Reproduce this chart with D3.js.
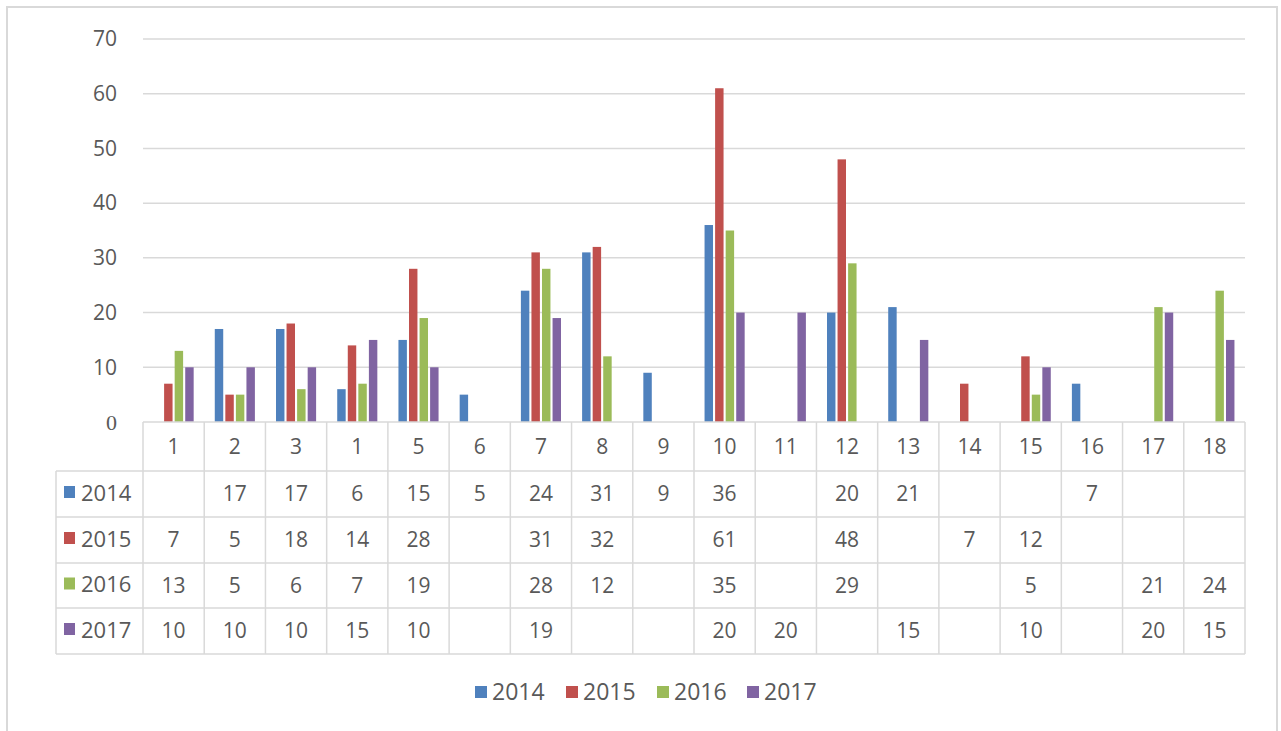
<!DOCTYPE html>
<html><head><meta charset="utf-8">
<script src="https://cdn.jsdelivr.net/npm/d3@7"></script>
<style>body{margin:0;background:#fff;}svg{display:block;}</style>
</head><body>
<script>
const categories = ["1","2","3","1","5","6","7","8","9","10","11","12","13","14","15","16","17","18"];
const seriesNames = ["2014","2015","2016","2017"];
const s2014 = [null,17,17,6,15,5,24,31,9,36,null,20,21,null,null,7,null,null];
const s2015 = [7,5,18,14,28,null,31,32,null,61,null,48,null,7,12,null,null,null];
const s2016 = [13,5,6,7,19,null,28,12,null,35,null,29,null,null,5,null,21,24];
const s2017 = [10,10,10,15,10,null,19,null,null,20,20,null,15,null,10,null,20,15];
const yTicks = [0,10,20,30,40,50,60,70];
const colors = ["#4F81BD","#C0504D","#9BBB59","#8064A2"];
const series = [s2014,s2015,s2016,s2017];

const W=1281,H=731;
const svg=d3.select("body").append("svg").attr("width",W).attr("height",H);
const font="'Open Sans', 'Liberation Sans', sans-serif";
const txt="#595959", grid="#d9d9d9";
const FS=21;

svg.append("rect").attr("x",7).attr("y",7).attr("width",1270).attr("height",740)
  .attr("fill","#fff").attr("stroke","#d9d9d9").attr("stroke-width",2);

const L=143,R=1245,T=39,B=422;
const x=d3.scaleBand().domain(d3.range(categories.length)).range([L,R]);
const y=d3.scaleLinear().domain([0,70]).range([B,T]);
const inner=d3.scaleBand().domain(d3.range(4)).range([0,x.bandwidth()]).paddingOuter(1.0).paddingInner(0.2);

// gridlines
svg.append("g").selectAll("line").data(yTicks.filter(d=>d>0)).join("line")
  .attr("x1",L).attr("x2",R).attr("y1",d=>y(d)).attr("y2",d=>y(d))
  .attr("stroke",grid).attr("stroke-width",1.5);
// y labels
svg.append("g").selectAll("text").data(yTicks).join("text")
  .attr("x",117).attr("y",d=>y(d)).attr("dy","0.35em").attr("text-anchor","end")
  .attr("font-family",d=>d===0?"'Liberation Serif', serif":font).attr("font-size",d=>d===0?22:FS).attr("fill",txt)
  .text(d=>d);

// bars
series.forEach((s,si)=>{
  svg.append("g").selectAll("rect").data(s.map((v,i)=>({v,i})).filter(d=>d.v!=null)).join("rect")
    .attr("x",d=>x(d.i)+inner(si)).attr("width",inner.bandwidth())
    .attr("y",d=>y(d.v)).attr("height",d=>B-y(d.v)).attr("fill",colors[si]);
});

// table
const rowTop=[422,471,517,563,608,654];
const TL=56;
const tg=svg.append("g").attr("stroke",grid).attr("stroke-width",1.5).attr("fill","none");
tg.append("line").attr("x1",L).attr("x2",R).attr("y1",B).attr("y2",B);
rowTop.slice(1).forEach(ry=>tg.append("line").attr("x1",TL).attr("x2",R).attr("y1",ry).attr("y2",ry));
tg.append("line").attr("x1",TL).attr("x2",TL).attr("y1",471).attr("y2",654);
d3.range(categories.length+1).forEach(i=>{
  const xx = i<categories.length? x(i): R;
  tg.append("line").attr("x1",xx).attr("x2",xx).attr("y1",B).attr("y2",654);
});
// category labels
svg.append("g").selectAll("text").data(categories).join("text")
  .attr("x",(d,i)=>x(i)+x.bandwidth()/2).attr("y",(rowTop[0]+rowTop[1])/2).attr("dy","0.35em")
  .attr("text-anchor","middle").attr("font-family",font).attr("font-size",FS).attr("fill",txt).text(d=>d);
// rows
series.forEach((s,si)=>{
  const cy=(rowTop[si+1]+rowTop[si+2])/2-1;
  svg.append("rect").attr("x",64).attr("y",cy-7).attr("width",11).attr("height",12).attr("fill",colors[si]);
  svg.append("text").attr("x",81).attr("y",cy).attr("dy","0.35em").attr("font-family",font)
    .attr("font-size",FS+1).attr("fill",txt).text(seriesNames[si]);
  svg.append("g").selectAll("text").data(s.map((v,i)=>({v,i})).filter(d=>d.v!=null)).join("text")
    .attr("x",d=>x(d.i)+x.bandwidth()/2).attr("y",cy+1).attr("dy","0.35em").attr("text-anchor","middle")
    .attr("font-family",font).attr("font-size",FS).attr("fill",txt).text(d=>d.v);
});

// legend
const lx=[475,566,657,747];
seriesNames.forEach((n,i)=>{
  svg.append("rect").attr("x",lx[i]).attr("y",686).attr("width",12).attr("height",12).attr("fill",colors[i]);
  svg.append("text").attr("x",lx[i]+17).attr("y",692).attr("dy","0.35em").attr("font-family",font)
    .attr("font-size",23).attr("fill",txt).text(n);
});
</script>
</body></html>
